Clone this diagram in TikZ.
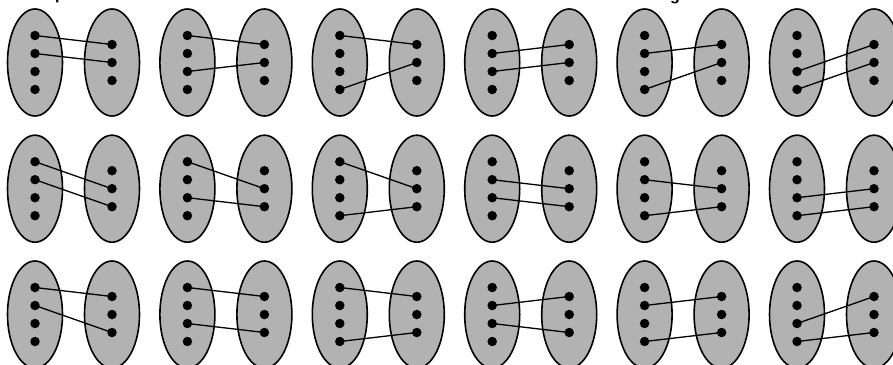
\documentclass[tikz,border=0pt]{standalone}
\usepackage{fontspec}
\setmainfont{Liberation Sans}
\usetikzlibrary{shapes.geometric}
\tikzset{
  setell/.style={ellipse, draw=black, fill=black!30, line width=1.6pt, minimum width=55pt, minimum height=107pt, inner sep=0pt},
  pt/.style={circle, fill=black, minimum size=9.5pt, inner sep=0pt},
  link/.style={line width=1.3pt, black},
  cut/.style={font=\bfseries\fontsize{16}{19}\selectfont, anchor=base, inner sep=0pt}
}
\begin{document}
\begin{tikzpicture}[x=1pt,y=-1pt]
\useasboundingbox (0,0) rectangle (893,364);
\node[cut] (tp) at (60,-0.6) {p};
\node[cut] (tg) at (675,1) {g};
\foreach \c/\la/\lb in {1/1/2,2/1/3,3/1/4,4/2/3,5/2/4,6/3/4}{
  \foreach \r/\yc/\ra/\rb in {1/62.5/1/2,2/188.7/2/3,3/314.5/1/3}{
    \pgfmathsetmacro\xl{35+(\c-1)*152.4}
    \pgfmathsetmacro\xr{\xl+77}
    \node[setell] (A\r\c) at (\xl,\yc) {};
    \node[setell] (B\r\c) at (\xr,\yc) {};
    \foreach \k in {1,...,4}{
      \node[pt] (A\r\c d\k) at (\xl,{\yc-27+(\k-1)*18}) {};
    }
    \foreach \k in {1,2,3}{
      \node[pt] (B\r\c d\k) at (\xr,{\yc-18+(\k-1)*18}) {};
    }
    \draw[link] (A\r\c d\la.center) -- (B\r\c d\ra.center);
    \draw[link] (A\r\c d\lb.center) -- (B\r\c d\rb.center);
  }
}
\end{tikzpicture}
\end{document}
